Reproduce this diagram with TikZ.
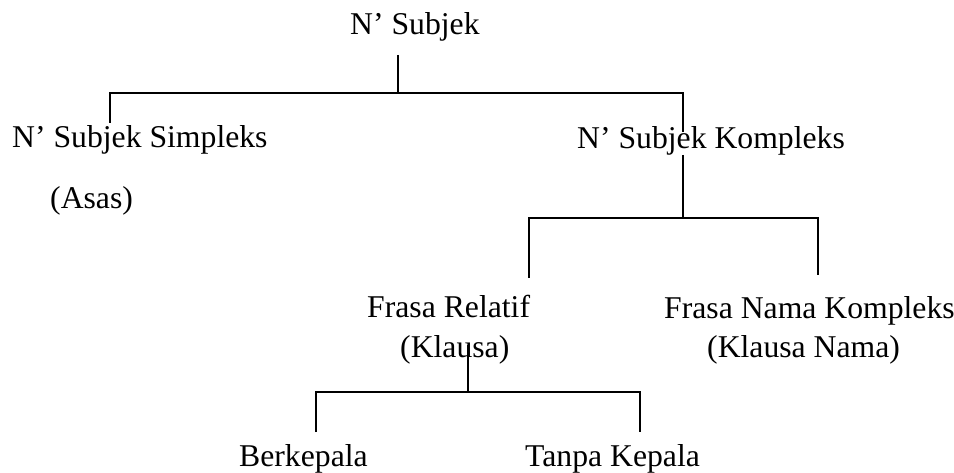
\documentclass[tikz,border=0pt]{standalone}
\usepackage{fontspec}
\setmainfont{Liberation Serif}
\begin{document}
\begin{tikzpicture}[x=1pt,y=-1pt,
  lbl/.style={anchor=base west,inner sep=0pt,font=\fontsize{31.7}{38}\selectfont},
  conn/.style={line width=1.8pt}]
\useasboundingbox (0,0) rectangle (954,473);
% text nodes
\node[lbl] (root)   at (350,35)  {N’ Subjek};
\node[lbl] (simp)   at (12,148)  {N’ Subjek Simpleks};
\node[lbl] (asas)   at (50,209)  {(Asas)};
\node[lbl] (komp)   at (577,149) {N’ Subjek Kompleks};
\node[lbl] (frel)   at (367,318) {Frasa Relatif};
\node[lbl] (klausa) at (400,358) {(Klausa)};
\node[lbl] (fnk)    at (664,319) {Frasa Nama Kompleks};
\node[lbl] (kn)     at (707,358) {(Klausa Nama)};
\node[lbl] (berk)   at (239,466) {Berkepala};
\node[lbl] (tanpa)  at (525,466) {Tanpa Kepala};
% connector points
\coordinate (rootdn) at (398,55);
\coordinate (j1)  at (398,93);
\coordinate (j1l) at (110,93);
\coordinate (j1r) at (683,93);
\coordinate (simpup) at (110,123);
\coordinate (kompup) at (683,132);
\coordinate (kompdn) at (683,155);
\coordinate (j2)  at (683,218);
\coordinate (j2l) at (529,218);
\coordinate (j2r) at (818,218);
\coordinate (frelup) at (529,278);
\coordinate (fnkup) at (818,275);
\coordinate (klausadn) at (468,345);
\coordinate (j3)  at (468,392);
\coordinate (j3l) at (316,392);
\coordinate (j3r) at (640,392);
\coordinate (berkup) at (316,432);
\coordinate (tanpaup) at (640,432);
% connectors
\draw[conn] (rootdn) -- (j1);
\draw[conn] (simpup) -- (j1l) -- (j1r) -- (kompup);
\draw[conn] (kompdn) -- (j2);
\draw[conn] (frelup) -- (j2l) -- (j2r) -- (fnkup);
\draw[conn] (klausadn) -- (j3);
\draw[conn] (berkup) -- (j3l) -- (j3r) -- (tanpaup);
\end{tikzpicture}
\end{document}
